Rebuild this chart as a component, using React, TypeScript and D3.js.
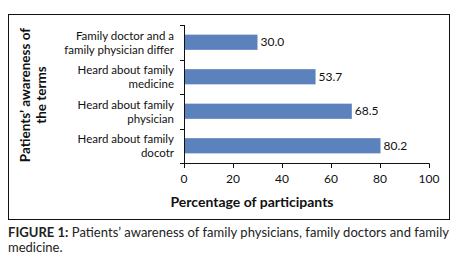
import React from "react";
import * as d3 from "d3";

const categories: string[][] = [
  ["Family doctor and a", "family physician differ"],
  ["Heard about family", "medicine"],
  ["Heard about family", "physician"],
  ["Heard about family", "docotr"],
];
const values: number[] = [30.0, 53.7, 68.5, 80.2];
const xTicks: number[] = [0, 20, 40, 60, 80, 100];

const FONT = "Lato, 'Open Sans', sans-serif";

export default function App() {
  const W = 462, H = 264;
  const x = d3.scaleLinear().domain([0, 100]).range([184, 429]);
  const keys = categories.map((c, i) => String(i));
  const y = d3.scaleBand().domain(keys).range([25, 163]).paddingInner(0.56).paddingOuter(0.28);
  const bandStep = y.step();
  const color = "#5b82bd";
  return (
    <svg width={W} height={H} style={{ position: "absolute", left: 0, top: 0, background: "#fff" }}>
      <rect x={8.5} y={14.5} width={441} height={205} fill="none" stroke="#111" strokeWidth={1} />
      {values.map((v, i) => (
        <g key={i}>
          <rect x={x(0)} y={y(String(i))} width={x(v) - x(0)} height={y.bandwidth()} fill={color} />
          <text x={x(v) + 3} y={(y(String(i)) as number) + y.bandwidth() / 2 + 4} fontSize={12} fontFamily={FONT} fill="#111">
            {v.toFixed(1)}
          </text>
        </g>
      ))}
      <line x1={184.5} x2={184.5} y1={25} y2={163} stroke="#111" />
      {d3.range(categories.length + 1).map((k) => {
        const yy = Math.round(25 + k * bandStep) + 0.5;
        return <line key={k} x1={180} x2={184.5} y1={yy} y2={yy} stroke="#111" />;
      })}
      {categories.map((lines, i) => {
        const cy = (y(String(i)) as number) + y.bandwidth() / 2;
        return (
          <g key={i}>
            <text x={174} y={cy - 2.5} textAnchor="end" fontSize={11.5} fontFamily={FONT} fill="#111">{lines[0]}</text>
            <text x={174} y={cy + 11.5} textAnchor="end" fontSize={11.5} fontFamily={FONT} fill="#111">{lines[1]}</text>
          </g>
        );
      })}
      <line x1={184} x2={429.5} y1={163.5} y2={163.5} stroke="#111" />
      {xTicks.map((t) => (
        <g key={t}>
          <line x1={Math.round(x(t)) + 0.5} x2={Math.round(x(t)) + 0.5} y1={163.5} y2={168} stroke="#111" />
          <text x={x(t)} y={183} textAnchor="middle" fontSize={12} fontFamily={FONT} fill="#111">{t}</text>
        </g>
      ))}
      <text x={252} y={207} textAnchor="middle" fontSize={14} fontWeight="bold" fontFamily={FONT} fill="#111">
        Percentage of participants
      </text>
      <g transform="translate(0,95) rotate(-90)">
        <text x={0} y={30} textAnchor="middle" fontSize={13.5} fontWeight="bold" fontFamily={FONT} fill="#111">Patients’ awareness of</text>
        <text x={0} y={46} textAnchor="middle" fontSize={13.5} fontWeight="bold" fontFamily={FONT} fill="#111">the terms</text>
      </g>
      <text x={8} y={237} fontSize={13} fontFamily={FONT} fill="#222" textLength={441} lengthAdjust="spacing">
        <tspan fontWeight="bold">FIGURE 1:</tspan> Patients’ awareness of family physicians, family doctors and family
      </text>
      <text x={8} y={252} fontSize={13} fontFamily={FONT} fill="#222">medicine.</text>
    </svg>
  );
}
